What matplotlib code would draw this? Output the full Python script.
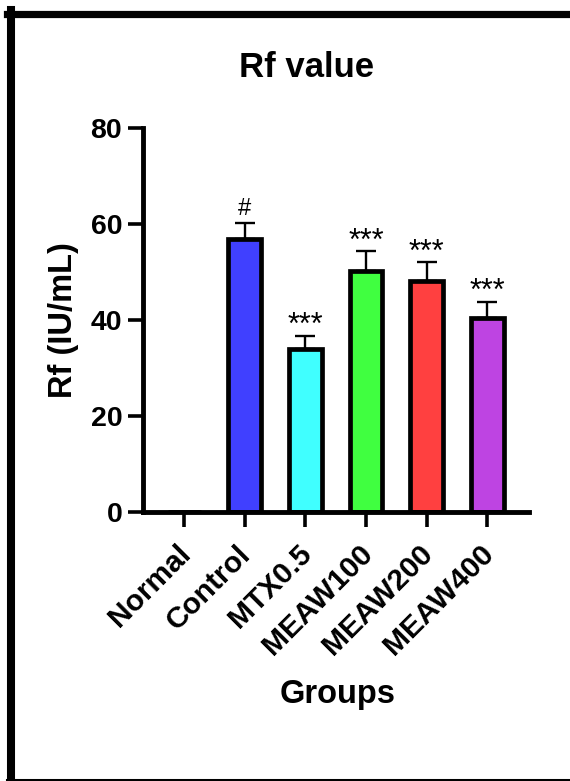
import matplotlib
matplotlib.use("Agg")
import matplotlib.pyplot as plt
from matplotlib.lines import Line2D
from matplotlib.transforms import ScaledTranslation
import numpy as np

plt.rcParams['font.family'] = ['Liberation Sans', 'DejaVu Sans']

groups = ["Normal", "Control", "MTX0.5", "MEAW100", "MEAW200", "MEAW400"]
means = [0.0, 56.8, 34.0, 50.3, 48.2, 40.5]
errors = [0.0, 3.5, 2.7, 4.1, 3.8, 3.3]
marks = ["", "#", "***", "***", "***", "***"]
colors = ["#FFFFFF", "#4040FF", "#40FFFF", "#40FF40", "#FF4040", "#BE44E2"]

W, H, DPI = 570, 781, 100
fig = plt.figure(figsize=(W / DPI, H / DPI), dpi=DPI)
fig.patch.set_facecolor("white")

ax = fig.add_axes([143 / W, 1 - 512 / H, (529 - 143) / W, (512 - 128) / H])

x = np.arange(len(groups))
ax.bar(x, means, width=0.54, color=colors, edgecolor="black", linewidth=3.4, zorder=2)
mask = np.array([e > 0 for e in errors])
m_arr = np.array(means)
e_arr = np.array(errors)
ax.errorbar(x[mask], m_arr[mask], yerr=[np.zeros(mask.sum()), e_arr[mask]],
            fmt="none", ecolor="black", elinewidth=1.7, capsize=7, capthick=1.7, zorder=1)

for i, (m, e, t) in enumerate(zip(means, errors, marks)):
    if not t:
        continue
    if t == "#":
        ax.annotate(t, (i, m + e), xytext=(0, 2), textcoords="offset points",
                    ha="center", va="bottom", fontsize=17, color="black")
    else:
        ax.annotate(t, (i, m + e), xytext=(0, -4), textcoords="offset points",
                    ha="center", va="bottom", fontsize=22, color="black")

ax.set_xlim(-0.68, 5.69)
ax.set_ylim(0, 80)
ax.set_yticks([0, 20, 40, 60, 80])
ax.set_xticks(x)

for s in ["top", "right"]:
    ax.spines[s].set_visible(False)
for s in ["left", "bottom"]:
    ax.spines[s].set_linewidth(3.5)
ax.tick_params(axis="both", length=11, width=2.6, color="black")
ax.tick_params(axis="y", pad=4)
ax.tick_params(axis="x", pad=4)

ax.set_xticklabels(groups, rotation=45, ha="right", va="top", rotation_mode="anchor",
                   fontsize=21.5, fontweight="bold")
off = ScaledTranslation(-8 / DPI, -7 / DPI, fig.dpi_scale_trans)
for lab in ax.get_xticklabels():
    lab.set_transform(lab.get_transform() + off)
for lab in ax.get_yticklabels():
    lab.set_fontsize(20.5)
    lab.set_fontweight("bold")

ax.set_ylabel("Rf (IU/mL)", fontsize=23.5, fontweight="bold")
ax.yaxis.set_label_coords(-0.165, 0.5)
ax.set_xlabel("Groups", fontsize=23.5, fontweight="bold")
ax.xaxis.set_label_coords(0.503, -0.435)

fig.suptitle("Rf value", x=307 / W, y=1 - 77 / H, va="baseline", ha="center",
             fontsize=25, fontweight="bold")

# frame border
fig.add_artist(Line2D([7 / W, 1.0], [1 - 13.5 / H, 1 - 13.5 / H], transform=fig.transFigure,
                      color="black", linewidth=5.2))
fig.add_artist(Line2D([11 / W, 11 / W], [0, 1 - 10 / H], transform=fig.transFigure,
                      color="black", linewidth=5.8))
fig.add_artist(Line2D([7 / W, 1.0], [1 - 780 / H, 1 - 780 / H], transform=fig.transFigure,
                      color="black", linewidth=2.2))

fig.savefig("out.png", dpi=DPI)
